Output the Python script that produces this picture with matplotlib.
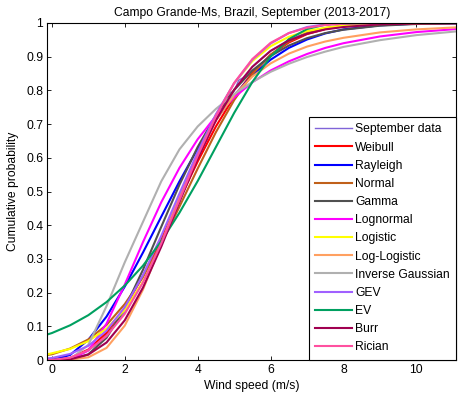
import matplotlib
matplotlib.use("Agg")
import matplotlib.pyplot as plt

# Wind speed grid (m/s) at which the fitted CDFs are tabulated
wind = [-0.12, 0, 0.5, 1, 1.5, 2, 2.5, 3, 3.5, 4, 4.5, 5, 5.5, 6, 6.5, 7, 7.5, 8, 9, 10, 11.1]

weibull   = [0, 0, .006, .031, .081, .155, .250, .360, .476, .589, .693, .781, .852, .905, .942, .967, .982, .991, .998, 1.0, 1.0]
rayleigh  = [0, 0, .015, .060, .129, .218, .319, .425, .530, .627, .713, .785, .845, .891, .926, .951, .969, .981, .993, .998, .999]
normal    = [.015, .017, .034, .061, .104, .166, .246, .345, .455, .568, .676, .771, .848, .906, .945, .970, .985, .993, .999, 1.0, 1.0]
gamma     = [0, 0, .001, .017, .066, .153, .268, .395, .520, .632, .726, .801, .859, .902, .933, .955, .970, .980, .992, .997, .999]
lognormal = [0, 0, .001, .028, .108, .224, .350, .468, .570, .655, .724, .779, .824, .859, .886, .908, .926, .940, .960, .973, .982]
logistic  = [.017, .020, .033, .056, .093, .149, .232, .342, .473, .607, .727, .821, .887, .931, .959, .976, .986, .992, .997, .999, 1.0]
loglogist = [0, 0, .001, .008, .036, .102, .209, .345, .487, .611, .711, .786, .841, .880, .909, .930, .945, .956, .972, .981, .987]
invgauss  = [0, 0, .002, .045, .160, .290, .410, .530, .625, .693, .745, .789, .825, .855, .879, .899, .915, .929, .949, .964, .975]
gev       = [.005, .006, .018, .042, .087, .157, .252, .368, .494, .617, .729, .821, .891, .939, .970, .988, .996, .999, 1.0, 1.0, 1.0]
ev        = [.076, .080, .103, .133, .172, .221, .280, .352, .437, .531, .632, .733, .825, .900, .952, .982, .995, .999, 1.0, 1.0, 1.0]
burr      = [0, 0, .002, .016, .052, .118, .215, .336, .469, .598, .711, .802, .870, .917, .948, .968, .981, .988, .996, .998, .999]
rician    = [0, 0, .007, .029, .071, .137, .230, .346, .475, .606, .724, .822, .893, .941, .970, .986, .994, .998, 1.0, 1.0, 1.0]

# Empirical CDF of the September measurements
data_x = [0.0, 0.25, 0.5, 0.75, 1.0, 1.25, 1.5, 1.75, 2.0, 2.25, 2.5,
          2.75, 2.875, 3.0, 3.125, 3.25, 3.375, 3.5, 3.625, 3.75, 3.875, 4.0,
          4.125, 4.25, 4.375, 4.5, 4.625, 4.75, 4.875, 5.0, 5.125, 5.25,
          5.5, 5.75, 6.0, 6.5, 7.0, 7.5, 8.0, 8.5, 9.0]
data_y = [0.0, 0.002, 0.006, 0.015, 0.028, 0.048, 0.075, 0.105, 0.142, 0.185, 0.232,
          0.285, 0.322, 0.343, 0.385, 0.402, 0.450, 0.466, 0.517, 0.530, 0.584, 0.596,
          0.645, 0.652, 0.700, 0.707, 0.750, 0.757, 0.792, 0.798, 0.830, 0.838,
          0.870, 0.895, 0.918, 0.950, 0.972, 0.985, 0.993, 0.997, 1.0]

series = [
    ("Weibull", weibull, "#ff0000"),
    ("Rayleigh", rayleigh, "#0000ff"),
    ("Normal", normal, "#c0601a"),
    ("Gamma", gamma, "#505050"),
    ("Lognormal", lognormal, "#ff00ff"),
    ("Logistic", logistic, "#ffff00"),
    ("Log-Logistic", loglogist, "#ffa060"),
    ("Inverse Gaussian", invgauss, "#b0b0b0"),
    ("GEV", gev, "#a060ff"),
    ("EV", ev, "#00a060"),
    ("Burr", burr, "#a00050"),
    ("Rician", rician, "#ff50a0"),
]

FS = 8.7
plt.rcParams["font.family"] = ["Liberation Sans", "DejaVu Sans"]
plt.rcParams["font.size"] = FS

fig = plt.figure(figsize=(4.58, 3.99), dpi=100)
ax = fig.add_axes([0.1037, 0.0977, 0.893, 0.8447])

ax.plot(data_x, data_y, color="#8064d8", lw=1.0, label="September data")
for name, vals, col in series:
    ax.plot(wind, vals, color=col, lw=1.5, label=name)

ax.set_xlim(-0.12, 11.1)
ax.set_ylim(0, 1)
ax.set_xticks([0, 2, 4, 6, 8, 10])
yt = [i / 10 for i in range(11)]
ax.set_yticks(yt)
ax.set_yticklabels(["0"] + [f"{v:.1f}" for v in yt[1:-1]] + ["1"])
ax.tick_params(direction="in", top=True, right=True, length=3, width=0.6,
               labelsize=FS, pad=3)
for s in ax.spines.values():
    s.set_linewidth(0.8)

ax.set_title("Campo Grande-Ms, Brazil, September (2013-2017)", fontsize=FS, pad=5)
ax.set_xlabel("Wind speed (m/s)", fontsize=FS, labelpad=3)
ax.set_ylabel("Cumulative probability", fontsize=FS, labelpad=5)

leg = ax.legend(loc="lower right", bbox_to_anchor=(1, 0), borderaxespad=0,
                fontsize=FS, frameon=True, fancybox=False, edgecolor="black",
                framealpha=1, handlelength=3.0, handletextpad=0.3,
                labelspacing=0.51, borderpad=0.55)
leg.get_frame().set_linewidth(0.8)

fig.savefig("out.png", dpi=100)
